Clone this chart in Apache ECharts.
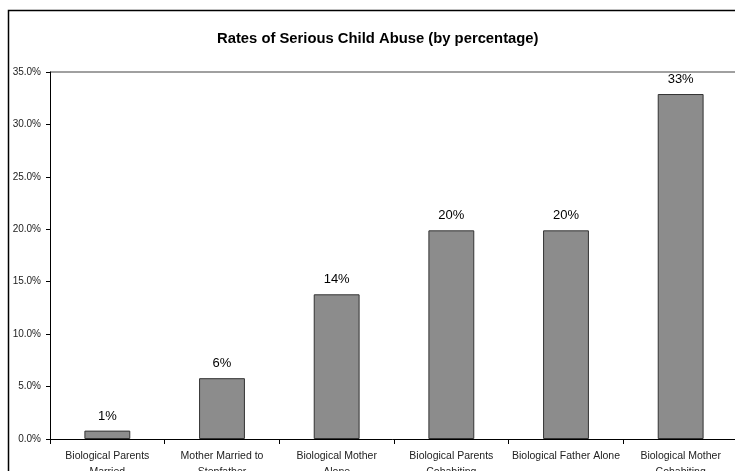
<!DOCTYPE html>
<html>
<head>
<meta charset="utf-8">
<script src="https://cdn.jsdelivr.net/npm/echarts@6/dist/echarts.min.js"></script>
<style>html,body{margin:0;padding:0;background:#fff;}#c{width:735px;height:471px;}</style>
</head>
<body>
<div id="c"></div>
<script>
const categories = ["Biological Parents\nMarried", "Mother Married to\nStepfather", "Biological Mother\nAlone", "Biological Parents\nCohabiting", "Biological Father Alone", "Biological Mother\nCohabiting"];
const values = [0.8, 5.8, 13.8, 19.9, 19.9, 32.9];
const yTicks = [0, 5, 10, 15, 20, 25, 30, 35];

const chart = echarts.init(document.getElementById('c'), null, {renderer: 'canvas'});
const gridLineColors = yTicks.map((t, i) => i === yTicks.length - 1 ? '#a0a0a0' : 'rgba(0,0,0,0)');
chart.setOption({
  backgroundColor: '#fff',
  animation: false,
  title: {
    text: 'Rates of Serious Child Abuse (by percentage)',
    left: 212, top: 26,
    textStyle: {fontFamily: 'Liberation Sans, Arial', fontSize: 14.8, fontWeight: 'bold', color: '#000'}
  },
  graphic: [{
    type: 'rect', shape: {x: 8.5, y: 10.5, width: 900, height: 600},
    style: {fill: 'none', stroke: '#000', lineWidth: 1.5}, silent: true, z: 100
  }],
  grid: {left: 50, top: 72, right: -3, bottom: 32, containLabel: false, outerBoundsMode: 'none'},
  xAxis: {
    type: 'category', data: categories,
    axisLine: {lineStyle: {color: '#000', width: 1}},
    axisTick: {show: true, alignWithLabel: false, length: 5, lineStyle: {color: '#000'}},
    axisLabel: {interval: 0, fontFamily: 'Liberation Sans, Arial', fontSize: 10.5, color: '#222', margin: 9, lineHeight: 16}
  },
  yAxis: {
    type: 'value', min: 0, max: 35, interval: 5,
    axisLine: {show: true, lineStyle: {color: '#000', width: 1}},
    axisTick: {show: true, length: 4, lineStyle: {color: '#000'}},
    splitLine: {show: true, lineStyle: {color: gridLineColors, width: 2}},
    axisLabel: {fontFamily: 'Liberation Sans, Arial', fontSize: 10, color: '#222', margin: 9,
      formatter: v => v.toFixed(1) + '%'}
  },
  series: [{
    type: 'bar', data: values, barWidth: '40%',
    itemStyle: {color: '#8c8c8c', borderColor: '#333', borderWidth: 1},
    label: {show: true, position: 'top', distance: 8, fontFamily: 'Liberation Sans, Arial', fontSize: 13, color: '#000',
      formatter: p => Math.round(p.value) + '%'}
  }]
});
</script>
</body>
</html>
